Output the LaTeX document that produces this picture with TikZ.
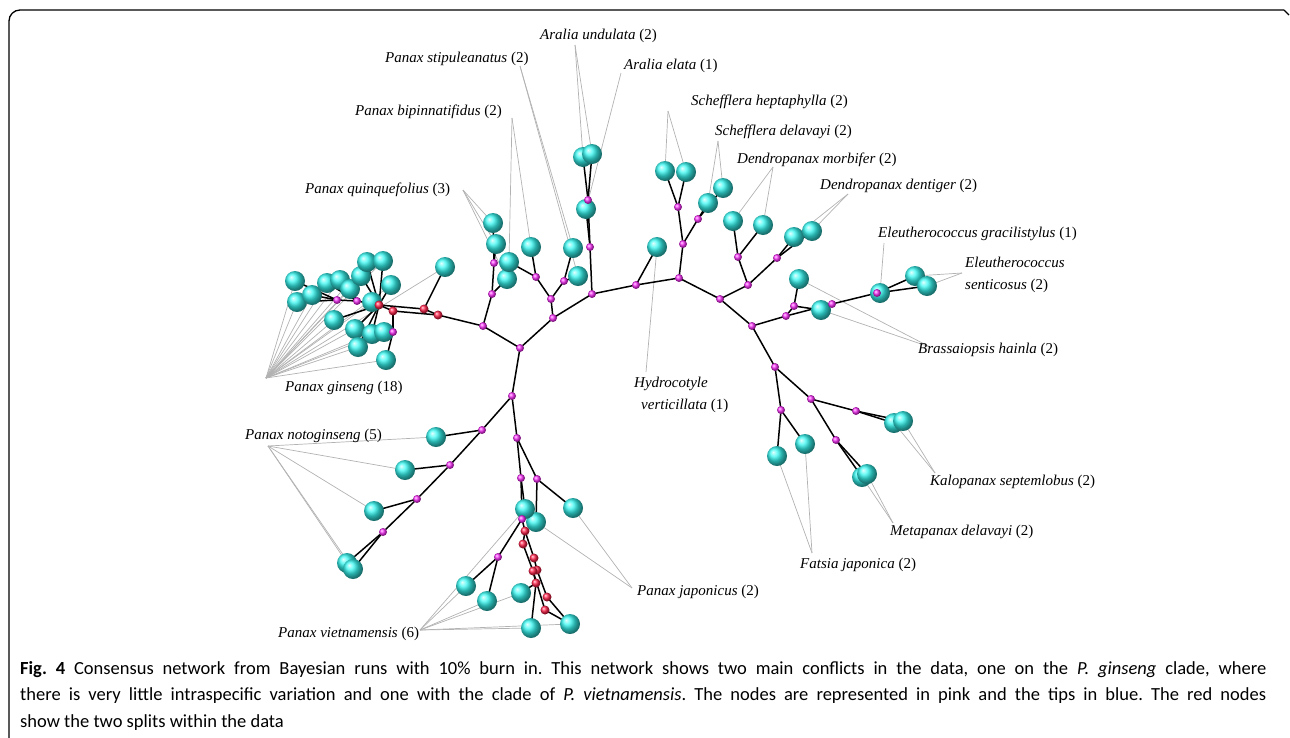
\documentclass[tikz,border=0pt]{standalone}
\usepackage{fontspec}
\setmainfont{Liberation Serif}
\newfontfamily\capfont{Carlito}
\pgfdeclarelayer{bg}
\pgfsetlayers{bg,main}
\definecolor{tipc}{RGB}{55,248,242}
\definecolor{magc}{RGB}{248,45,248}
\definecolor{redc}{RGB}{255,35,75}
\tikzset{
  tip/.style={circle,minimum size=20pt,inner sep=0pt,shading=ball,ball color=tipc},
  mn/.style={circle,minimum size=8pt,inner sep=0pt,shading=ball,ball color=magc},
  rn/.style={circle,minimum size=9pt,inner sep=0pt,shading=ball,ball color=redc},
  edge/.style={draw=black,line width=1.5pt},
  gline/.style={draw=black!30,line width=0.7pt},
  lab/.style={anchor=base west,inner sep=0pt,font=\fontsize{15}{17}\selectfont},
  captxt/.style={anchor=base west,inner sep=0pt,font=\capfont\fontsize{18.5}{26}\selectfont}
}
\newcommand\edgeL[2]{\draw[edge] (#1.center) -- (#2.center);}
\begin{document}
\begin{tikzpicture}[x=1pt,y=-1pt]
\useasboundingbox (0,0) rectangle (1290,737);
% frame
\draw[line width=1.3pt,rounded corners=11pt] (9,740) -- (9,10) -- (1284,10);
\draw[line width=1.3pt] (1284,10) -- (1289,15);

% ---------- tips ----------
\foreach \n/\x/\y in {g1/295/281,g2/297/302,g3/312/295,g4/327/283,g5/340/280,g6/350/289,g7/361/276,g8/367/262,g9/383/261,g10/391/285,g11/372/302,g12/334/320,g13/355/329,g14/372/334,g15/384/332,g16/358/347,g17/386/360,g18/445/267,
 q1/493/223,q2/496/244,q3/507/279,b1/509/262,b2/531/247,s1/573/248,s2/578/276,
 au1/583/157,au2/592/154,ae/586/209,hv/657/247,sh1/665/171,sh2/686/172,sd1/708/203,sd2/723/188,
 dm1/733/221,dm2/763/225,dd1/794/237,dd2/812/231,bh1/799/279,bh2/821/310,eg/880/293,es1/915/276,es2/927/286,
 fj1/777/456,fj2/805/444,kp1/894/423,kp2/903/421,md1/862/477,md2/867/474,
 ng1/436/437,ng2/405/470,ng3/374/511,ng4/347/563,ng5/353/569,
 pj1/573/508,pj2/536/522,vt1/525/509,vt2/466/586,vt3/487/601,vt4/521/593,vt5/531/628,vt6/570/624}
  {\node[tip] (\n) at (\x,\y) {};}

% ---------- internal (magenta) nodes ----------
\foreach \n/\x/\y in {c0/520/348,c1/483/326,c2/553/318,c3/512/396,
 gm1/337/300,gm2/357/301,gm3/393/332,
 ma/492/294,mb/494/263,mc/536/277,md/551/299,me/564/281,mf/592/294,mg/590/247,mh/588/200,
 mi/636/285,mj/679/278,mk/683/244,ml/678/207,mm/698/219,mn1/720/299,mo/748/285,mp/738/257,mq/777/258,
 mr/752/326,ms/786/316,mt/794/306,mu/832/304,mv/877/293,
 mw/775/367,mx/781/410,my/811/399,mz/856/411,maa/836/440,
 n1/482/430,n2/450/465,n3/417/499,n4/383/532,
 v0/517/438,v1/521/478,v2/537/479,v3/522/519,v4/498/557}
  {\node[mn] (\n) at (\x,\y) {};}

% ---------- red nodes ----------
\foreach \n/\x/\y in {r1/379/305,r2/393/311,r3/424/309,r4/438/315,
 ra/525/531,rb/523/544,rc/534/558,rd/537/570,re/533/571,rf/536/583,rg/547/597,rh/545/610}
  {\node[rn] (\n) at (\x,\y) {};}

% ---------- labels ----------
\node[lab] (Lau) at (540,39) {\textit{Aralia undulata} (2)};
\node[lab] (Lae) at (624,69) {\textit{Aralia elata} (1)};
\node[lab] (Lst) at (385,62) {\textit{Panax stipuleanatus} (2)};
\node[lab] (Lbi) at (355,115) {\textit{Panax bipinnatifidus} (2)};
\node[lab] (Lqu) at (305,193) {\textit{Panax quinquefolius} (3)};
\node[lab] (Lsh) at (691,105) {\textit{Schefflera heptaphylla} (2)};
\node[lab] (Lsd) at (715,135) {\textit{Schefflera delavayi} (2)};
\node[lab] (Ldm) at (737,163) {\textit{Dendropanax morbifer} (2)};
\node[lab] (Ldd) at (820,189) {\textit{Dendropanax dentiger} (2)};
\node[lab] (Leg) at (878,237) {\textit{Eleutherococcus gracilistylus} (1)};
\node[lab] (Les) at (965,267) {\textit{Eleutherococcus}};
\node[lab] (Les2) at (965,289) {\textit{senticosus} (2)};
\node[lab] (Lbh) at (918,353) {\textit{Brassaiopsis hainla} (2)};
\node[lab] (Lkp) at (930,485) {\textit{Kalopanax septemlobus} (2)};
\node[lab] (Lmd) at (890,535) {\textit{Metapanax delavayi} (2)};
\node[lab] (Lfj) at (800,568) {\textit{Fatsia japonica} (2)};
\node[lab] (Lhv) at (634,387) {\textit{Hydrocotyle}};
\node[lab] (Lhv2) at (641,409) {\textit{verticillata} (1)};
\node[lab] (Lng) at (245,439) {\textit{Panax notoginseng} (5)};
\node[lab] (Lpj) at (637,595) {\textit{Panax japonicus} (2)};
\node[lab] (Lvt) at (278,637) {\textit{Panax vietnamensis} (6)};
\node[lab] (Lgi) at (285,391) {\textit{Panax ginseng} (18)};

% label anchor coordinates
\coordinate (Pau) at (575,45);
\coordinate (Pae) at (621,73);
\coordinate (Pst) at (520,66);
\coordinate (Pbi) at (512,118);
\coordinate (Pqu) at (463,190);
\coordinate (Psh) at (668,111);
\coordinate (Psd) at (718,141);
\coordinate (Pdm) at (773,167);
\coordinate (Pdd) at (848,194);
\coordinate (Peg) at (884,243);
\coordinate (Pes) at (962,273);
\coordinate (Pbh) at (930,347);
\coordinate (Pkp) at (935,473);
\coordinate (Pmd) at (893,523);
\coordinate (Pfj) at (812,553);
\coordinate (Phv) at (646,372);
\coordinate (Png) at (268,446);
\coordinate (Ppj) at (632,588);
\coordinate (Pvt) at (420,630);
\coordinate (Pgi) at (266,378);

% ---------- connectors ----------
\begin{pgfonlayer}{bg}
\foreach \p/\l in {Pau/{au1,au2},Pae/{ae},Pst/{s1,s2},Pbi/{b1,b2},Pqu/{q1,q2,q3},Psh/{sh1,sh2},Psd/{sd1,sd2},
  Pdm/{dm1,dm2},Pdd/{dd1,dd2},Peg/{eg},Pes/{es1,es2},Pbh/{bh1,bh2},Pkp/{kp1,kp2},Pmd/{md1,md2},Pfj/{fj1,fj2},
  Phv/{hv},Png/{ng1,ng2,ng3,ng4,ng5},Ppj/{pj1,pj2},Pvt/{vt1,vt2,vt3,vt4,vt5,vt6},
  Pgi/{g1,g2,g3,g4,g5,g6,g7,g8,g9,g10,g11,g12,g13,g14,g15,g16,g17,g18}}
  {\foreach \t in \l {\draw[gline] (\p) -- (\t.center);}}

\foreach \a/\b in {c0/c1,c0/c2,c0/c3,
  c1/r4,r4/r3,r4/r2,r3/r1,r2/r1,r3/g18,r2/gm3,gm3/g15,gm3/g17,r1/gm2,gm2/gm1,gm1/g1,gm1/g2,gm1/g3,
  gm2/g4,gm2/g5,gm2/g6,r1/g7,r1/g8,r1/g9,r1/g10,r1/g11,r1/g12,r1/g13,r1/g14,r1/g16,
  c1/ma,ma/mb,mb/q1,mb/q2,ma/q3,
  c2/md,md/mc,mc/b1,mc/b2,md/me,me/s1,me/s2,
  c2/mf,mf/mg,mg/mh,mh/au1,mh/au2,mg/ae,
  mf/mi,mi/hv,mi/mj,mj/mk,mk/ml,ml/sh1,ml/sh2,mk/mm,mm/sd1,mm/sd2,
  mj/mn1,mn1/mo,mo/mp,mp/dm1,mp/dm2,mo/mq,mq/dd1,mq/dd2,
  mn1/mr,mr/ms,ms/mt,mt/bh1,mt/bh2,ms/mu,mu/mv,mv/eg,mv/es1,mv/es2,
  mr/mw,mw/mx,mx/fj1,mx/fj2,mw/my,my/mz,mz/kp1,mz/kp2,my/maa,maa/md1,maa/md2,
  c3/n1,n1/n2,n2/n3,n3/n4,n1/ng1,n2/ng2,n3/ng3,n4/ng4,n4/ng5,
  c3/v0,v0/v1,v0/v2,v2/pj1,v2/pj2,v1/vt1,v1/v3,v3/v4,v4/vt2,v4/vt3,
  v3/ra,ra/rb,ra/rc,rc/rd,rb/re,rd/re,re/rf,rf/vt4,rf/vt5,rd/rg,rg/vt6,re/rh,rh/vt6}
  {\edgeL{\a}{\b}}
\end{pgfonlayer}

% ---------- caption ----------
\node[captxt] (cap1) at (20,674) {\frenchspacing\hbox to 1246pt{\textbf{Fig. 4} Consensus network from Bayesian runs with 10\% burn in. This network shows two main conflicts in the data, one on the \textit{P. ginseng} clade, where}};
\node[captxt] (cap2) at (20,700.5) {\frenchspacing\hbox to 1246pt{there is very little intraspecific variation and one with the clade of \textit{P. vietnamensis}. The nodes are represented in pink and the tips in blue. The red nodes}};
\node[captxt] (cap3) at (20,727) {show the two splits within the data};
\end{tikzpicture}
\end{document}
